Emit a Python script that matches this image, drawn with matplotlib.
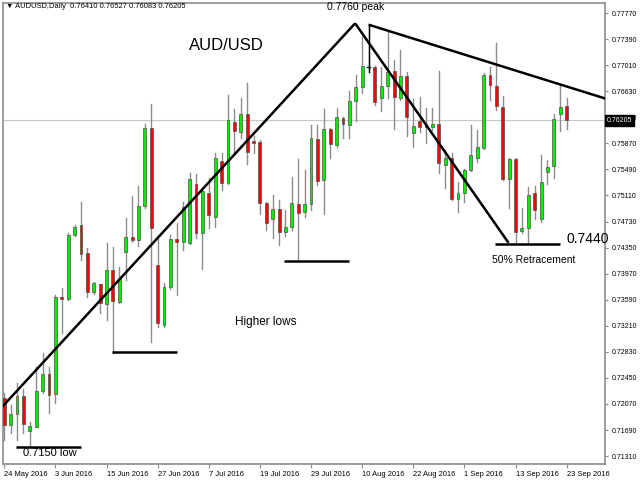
import numpy as np
import matplotlib
matplotlib.use('Agg')
import matplotlib.pyplot as plt
from matplotlib.patches import Rectangle

# daily OHLC, AUDUSD 24 May 2016 .. 23 Sep 2016
opens = [
    .7216, .7177, .7192, .7219, .7167, .7174, .7226, .7251, .7222, .7363,
    .7360, .7453, .7468, .7427, .7370, .7382, .7353, .7402, .7356, .7428,
    .7451, .7446, .7496, .7609, .7410, .7322, .7378, .7448, .7443, .7442,
    .7528, .7456, .7515, .7480, .7561, .7529, .7618, .7604, .7630, .7590,
    .7589, .7500, .7477, .7491, .7458, .7465, .7499, .7487, .7499, .7593,
    .7533, .7608, .7585, .7624, .7614, .7649, .7669, .7698, .7698, .7653,
    .7671, .7692, .7653, .7685, .7602, .7620, .7615, .7611, .7615, .7555,
    .7566, .7506, .7515, .7548, .7566, .7580, .7687, .7671, .7640, .7535,
    .7564, .7459, .7464, .7515, .7477, .7545, .7554, .7630, .76410]
highs = [
    .7223, .7206, .7238, .7229, .7181, .7261, .7281, .7261, .7366, .7376,
    .7456, .7468, .7501, .7434, .7385, .7382, .7442, .7436, .7407, .7478,
    .7510, .7525, .7615, .7644, .7448, .7383, .7453, .7471, .7501, .7544,
    .7542, .7522, .7536, .7573, .7573, .7657, .7637, .7653, .7675, .7598,
    .7592, .7502, .7512, .7504, .7490, .7538, .7564, .7548, .7614, .7614,
    .7637, .7610, .7639, .7626, .7663, .7687, .7742, .7760, .7700, .7698,
    .7749, .7709, .7723, .7691, .7652, .7655, .7639, .7639, .7692, .7577,
    .7573, .7531, .7550, .7614, .7606, .7690, .7698, .7733, .7656, .7566,
    .7566, .7493, .7523, .7525, .7570, .7563, .7630, .7672, .76527]
lows = [
    .7155, .7165, .7154, .7165, .7145, .7173, .7223, .7194, .7208, .7310,
    .7358, .7452, .7417, .7363, .7367, .7340, .7329, .7281, .7354, .7388,
    .7443, .7437, .7493, .7297, .7319, .7319, .7375, .7366, .7431, .7440,
    .7449, .7404, .7464, .7465, .7519, .7527, .7574, .7595, .7557, .7573,
    .7484, .7461, .7449, .7439, .7452, .7461, .7417, .7480, .7490, .7526,
    .7484, .7566, .7582, .7595, .7595, .7620, .7660, .7691, .7643, .7634,
    .7653, .7608, .7650, .7598, .7582, .7603, .7588, .7606, .7544, .7522,
    .7504, .7487, .7501, .7547, .7560, .7579, .7650, .7636, .7533, .7493,
    .7443, .7456, .7442, .7477, .7472, .7528, .7536, .7605, .76083]
closes = [
    .7177, .7192, .7219, .7178, .7175, .7226, .7251, .7220, .7363, .7360,
    .7453, .7465, .7426, .7370, .7383, .7354, .7402, .7357, .7389, .7451,
    .7446, .7496, .7609, .7464, .7325, .7378, .7448, .7443, .7494, .7535,
    .7456, .7518, .7483, .7566, .7529, .7621, .7605, .7630, .7574, .7588,
    .7500, .7471, .7491, .7458, .7465, .7500, .7485, .7499, .7595, .7532,
    .7608, .7586, .7625, .7615, .7649, .7669, .7700, .7698, .7647, .7671,
    .7691, .7655, .7685, .7625, .7612, .7611, .7611, .7615, .7558, .7566,
    .7506, .7515, .7548, .7570, .7582, .7687, .7672, .7641, .7535, .7564,
    .7458, .7464, .7512, .7490, .7531, .7553, .7623, .7640, .76205]

date_labels = ['24 May 2016', '3 Jun 2016', '15 Jun 2016', '27 Jun 2016', '7 Jul 2016',
               '19 Jul 2016', '29 Jul 2016', '10 Aug 2016', '22 Aug 2016', '1 Sep 2016',
               '13 Sep 2016', '23 Sep 2016']
date_bars = [0, 8, 16, 24, 32, 40, 48, 56, 64, 72, 80, 88]
price_ticks = [0.71310, 0.71690, 0.72070, 0.72450, 0.72830, 0.73210, 0.73590, 0.73970,
               0.74350, 0.74730, 0.75110, 0.75490, 0.75870, 0.76250, 0.76630, 0.77010,
               0.77390, 0.77770]
last_price = 0.76205

# drawn trend lines (bar index, price)
uptrend = ([-0.5, 54.9], [0.7201, 0.7762])
downtrend = ([54.9, 78.9], [0.7762, 0.7442])
resistance = ([57.0, 94.5], [0.7760, 0.7651])
lows_marks = [([1.8, 12.0], 0.7144), ([16.8, 27.1], 0.7283), ([43.7, 53.9], 0.7415)]
retrace = ([76.8, 87.0], 0.7440)

small = 'Liberation Sans'

fig = plt.figure(figsize=(6.4, 4.8), dpi=100)
ax = fig.add_axes([3 / 640, 16 / 480, 602 / 640, 461 / 480])

grey = '#8c8c8c'
w = 0.45
for i in range(len(opens)):
    o, h, l, c = opens[i], highs[i], lows[i], closes[i]
    ax.plot([i, i], [l, h], color=grey, lw=1, zorder=2)
    if c > o:
        col = '#00ee00'
    elif c < o:
        col = '#ff0000'
    else:
        col = None
    if col is None:
        # doji drawn in black like MT4
        ax.plot([i - w / 2, i + w / 2], [o, o], color='black', lw=1, zorder=3)
        ax.plot([i, i], [l, h], color='black', lw=1, zorder=3)
    else:
        ax.add_patch(Rectangle((i - w / 2, min(o, c)), w, abs(c - o), facecolor=col,
                               edgecolor='#505050', lw=0.5, zorder=3))

ax.axhline(last_price, color='#c8c8c8', lw=0.8, zorder=1)

lk = dict(color='black', lw=1.8, zorder=5, solid_capstyle='butt')
ax.plot(*uptrend, **lk)
ax.plot(*downtrend, **lk)
ax.plot(*resistance, **lk)
for xs, y in lows_marks:
    ax.plot(xs, [y, y], **lk)
ax.plot(retrace[0], [retrace[1], retrace[1]], **lk)

ax.text(54.9, 0.7786, '0.7760 peak', fontsize=7.5, family=small, ha='center', va='center')
ax.text(34.8, 0.7730, 'AUD/USD', fontsize=12, family=small, ha='center', va='center')
ax.text(40.9, 0.7327, 'Higher lows', fontsize=8.5, family=small, ha='center', va='center')
ax.text(3.0, 0.7136, '0.7150 low', fontsize=8, family=small, ha='left', va='center')
ax.text(87.9, 0.7447, '0.7440', fontsize=10, family=small, ha='left', va='center')
ax.text(82.8, 0.7417, '50% Retracement', fontsize=7.5, family=small, ha='center', va='center')

ax.set_xlim(-0.2, 94.0)
ax.set_ylim(0.71195, 0.77916)

ax.yaxis.tick_right()
ax.set_yticks(price_ticks)
ax.set_yticklabels(['%.5f' % p for p in price_ticks], fontsize=5, family=small)
ax.set_xticks(date_bars)
ax.set_xticklabels(date_labels, fontsize=5.4, ha='left', family=small)
ax.tick_params(axis='y', length=2, pad=3, color=grey)
ax.tick_params(axis='x', length=3, pad=2, color=grey)
for s in ax.spines.values():
    s.set_color(grey)
    s.set_linewidth(1.2)

ax.text(1.003, last_price, '0.76205', transform=ax.get_yaxis_transform(), fontsize=5,
        family=small, color='white', ha='left', va='center', zorder=10,
        bbox=dict(boxstyle='square,pad=0.3', facecolor='black', edgecolor='black'))

fig.text(6 / 640, 1 - 7 / 480, '\u25bc AUDUSD,Daily  0.76410 0.76527 0.76083 0.76205',
         fontsize=5.4, family=[small, 'DejaVu Sans'], ha='left', va='center')

fig.savefig('out.png', dpi=100)
